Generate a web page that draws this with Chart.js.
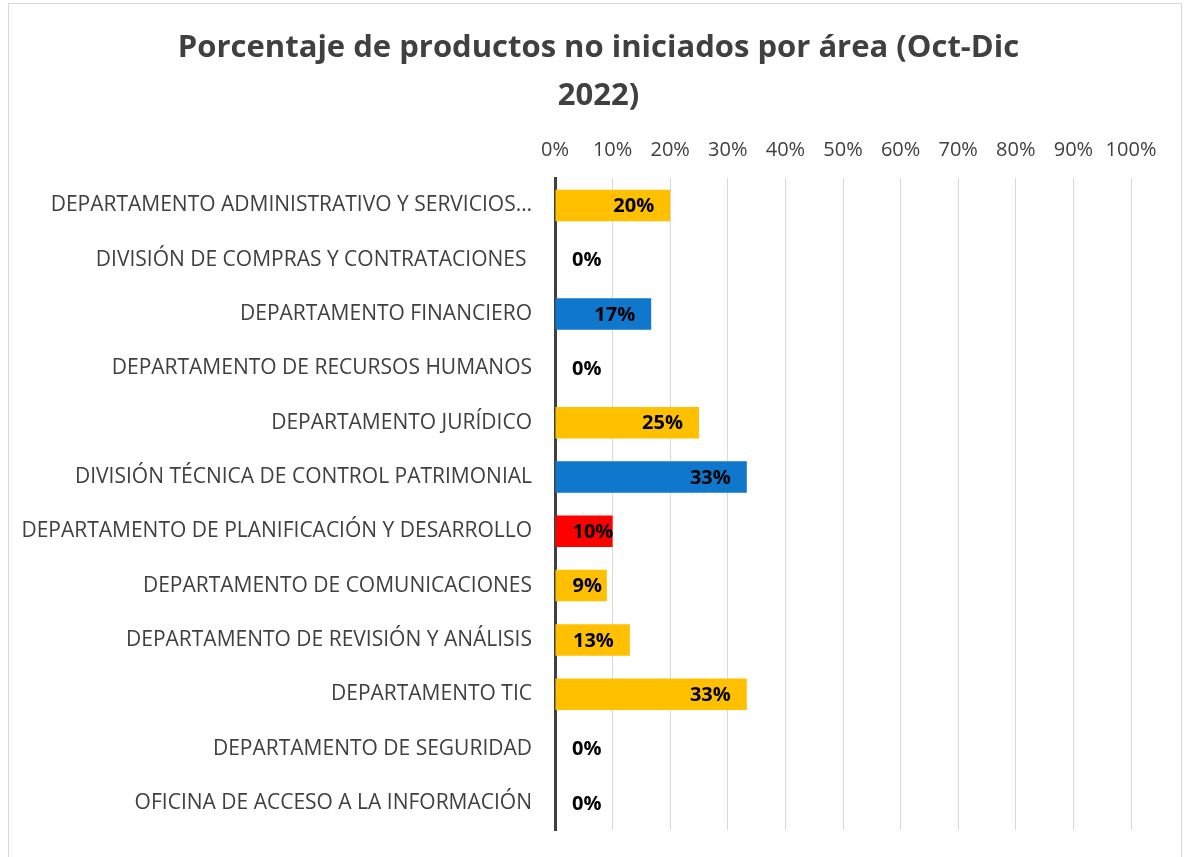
<!DOCTYPE html>
<html>
<head>
<meta charset="utf-8">
<script src="https://cdn.jsdelivr.net/npm/chart.js@4"></script>
<style>
    html, body { margin: 0; padding: 0; background: #fff; }
    #wrap { position: relative; width: 1184px; height: 857px; }
    #frame { position: absolute; left: 8px; top: 3px; width: 1172px; height: 860px;
             border: 1px solid #d9d9d9; border-bottom: none; pointer-events: none; }
</style>
</head>
<body>
<div id="wrap">
    <canvas id="areaChart" width="1184" height="857"></canvas>
    <div id="frame"></div>
</div>
<script>
// Chart data
var categories = [
    'DEPARTAMENTO ADMINISTRATIVO Y SERVICIOS…',
    'DIVISIÓN DE COMPRAS Y CONTRATACIONES ',
    'DEPARTAMENTO FINANCIERO',
    'DEPARTAMENTO DE RECURSOS HUMANOS',
    'DEPARTAMENTO JURÍDICO',
    'DIVISIÓN TÉCNICA DE CONTROL PATRIMONIAL',
    'DEPARTAMENTO DE PLANIFICACIÓN Y DESARROLLO',
    'DEPARTAMENTO DE COMUNICACIONES',
    'DEPARTAMENTO DE REVISIÓN Y ANÁLISIS',
    'DEPARTAMENTO TIC',
    'DEPARTAMENTO DE SEGURIDAD',
    'OFICINA DE ACCESO A LA INFORMACIÓN'
];
var values = [0.20, 0, 0.167, 0, 0.25, 0.333, 0.10, 0.09, 0.13, 0.333, 0, 0];
var barColors = ['#FFC000', '#FFC000', '#0F77CC', '#FFC000', '#FFC000', '#0F77CC',
                 '#FF0000', '#FFC000', '#FFC000', '#FFC000', '#FFC000', '#FFC000'];
var tickValues = [0, 0.1, 0.2, 0.3, 0.4, 0.5, 0.6, 0.7, 0.8, 0.9, 1];

var FONT = '"Open Sans", sans-serif';

// Draws "xx%" labels inside the end of each bar
var barLabels = {
    id: 'barLabels',
    afterLayout: function(chart) {
        // shift the title centre to match the original
        chart.titleBlock.left = 66;
        chart.titleBlock.right = 1131;
    },
    afterDatasetsDraw: function(chart) {
        var ctx = chart.ctx;
        var meta = chart.getDatasetMeta(0);
        ctx.save();
        ctx.font = 'bold 20px ' + FONT;
        ctx.fillStyle = '#000';
        ctx.textBaseline = 'middle';
        ctx.textAlign = 'left';
        meta.data.forEach(function(bar, i) {
            var text = Math.round(values[i] * 100) + '%';
            var w = ctx.measureText(text).width;
            var x = bar.x - 16 - w;
            if (x < bar.base + 17) {
                x = bar.base + 17;
            }
            ctx.fillText(text, x, bar.y + 1);
        });
        ctx.restore();
    }
};

var ctx = document.getElementById('areaChart').getContext('2d');
new Chart(ctx, {
    type: 'bar',
    data: {
        labels: categories,
        datasets: [{
            data: values,
            backgroundColor: barColors,
            barPercentage: 0.58,
            categoryPercentage: 1
        }]
    },
    options: {
        indexAxis: 'y',
        responsive: false,
        animation: false,
        layout: {
            padding: { left: 0, right: 53, top: 0, bottom: 27 }
        },
        plugins: {
            legend: { display: false },
            tooltip: { enabled: false },
            title: {
                display: true,
                text: ['Porcentaje de productos no iniciados por área (Oct-Dic', '2022)'],
                color: '#404040',
                font: { family: FONT, size: 31, weight: 'bold', lineHeight: 1.52 },
                padding: { top: 25, bottom: 0 }
            }
        },
        scales: {
            x: {
                position: 'top',
                min: 0,
                max: 1,
                afterBuildTicks: function(scale) {
                    scale.ticks = tickValues.map(function(v) { return { value: v }; });
                },
                afterFit: function(scale) {
                    scale.height = 59;
                },
                ticks: {
                    padding: 16,
                    color: '#404040',
                    font: { family: FONT, size: 20 },
                    callback: function(v) { return Math.round(v * 100) + '%'; }
                },
                grid: {
                    color: '#d9d9d9',
                    lineWidth: 1,
                    drawTicks: false
                },
                border: { display: false }
            },
            y: {
                afterFit: function(scale) {
                    scale.width = 555;
                    scale.paddingTop = 0;
                    scale.paddingBottom = 0;
                },
                ticks: {
                    padding: 23,
                    color: '#404040',
                    font: { family: FONT, size: 21 }
                },
                grid: { display: false, drawTicks: false },
                border: { display: true, color: '#404040', width: 3 }
            }
        }
    },
    plugins: [barLabels]
});
</script>
</body>
</html>
